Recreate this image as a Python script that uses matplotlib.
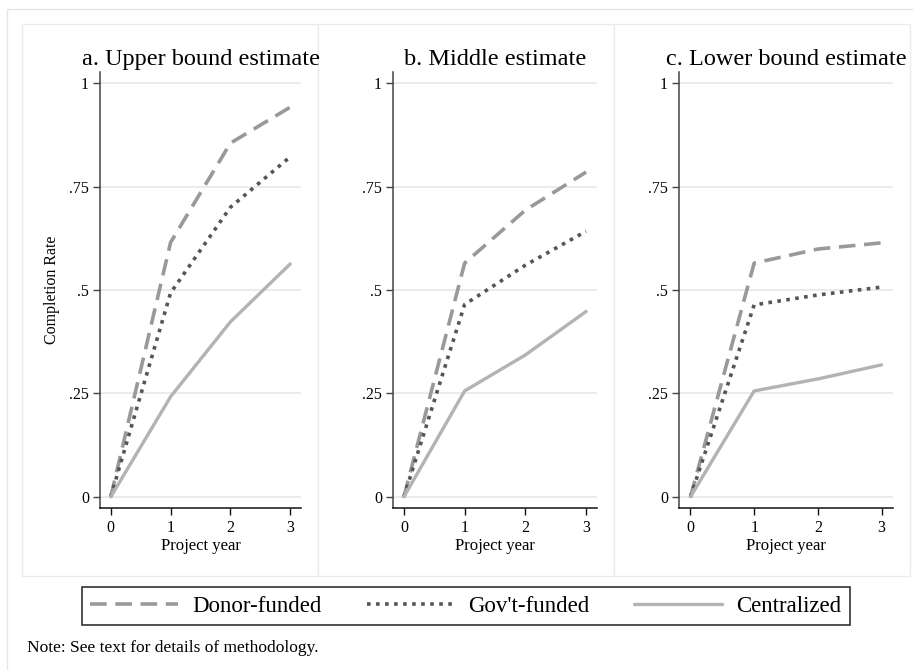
import matplotlib
matplotlib.use("Agg")
import matplotlib.pyplot as plt
from matplotlib.patches import Rectangle
from matplotlib.lines import Line2D

plt.rcParams["font.family"] = ["Liberation Serif", "DejaVu Serif"]

# completion rates by project year, one list per estimate and funding type
years = [0, 1, 2, 3]
panel_titles = ["a. Upper bound estimate", "b. Middle estimate", "c. Lower bound estimate"]
series_names = ["Donor-funded", "Gov't-funded", "Centralized"]

donor_upper = [0, 0.615, 0.855, 0.942]
gov_upper = [0, 0.493, 0.700, 0.822]
central_upper = [0, 0.242, 0.423, 0.563]

donor_middle = [0, 0.565, 0.693, 0.785]
gov_middle = [0, 0.465, 0.560, 0.642]
central_middle = [0, 0.256, 0.343, 0.448]

donor_lower = [0, 0.565, 0.599, 0.614]
gov_lower = [0, 0.464, 0.488, 0.507]
central_lower = [0, 0.256, 0.285, 0.319]

y_ticks = [0, 0.25, 0.5, 0.75, 1]
y_tick_labels = ["0", ".25", ".5", ".75", "1"]

W, H = 913, 670
fig = plt.figure(figsize=(W / 100, H / 100), dpi=100)


def fig_rect(left, top, right, bottom):
    # pixel box (from top-left) -> figure fraction [x, y, w, h]
    return [left / W, 1 - bottom / H, (right - left) / W, (bottom - top) / H]


# outer frame and per-panel boxes
frame = Rectangle((7 / W, 1 - 700 / H), 940 / W, 691 / H, transform=fig.transFigure,
                  facecolor="white", edgecolor="#e6e6e6", lw=1.0, zorder=-3)
fig.patches.append(frame)
for left in (22, 318, 614):
    box = Rectangle((left / W, 1 - 576 / H), 296 / W, 552 / H, transform=fig.transFigure,
                    facecolor="white", edgecolor="#ebebeb", lw=1.0, zorder=-2)
    fig.patches.append(box)

styles = [
    dict(color="#999999", lw=2.6, linestyle=(0, (4.6, 2.4)), dash_capstyle="butt"),
    dict(color="#555555", lw=2.6, linestyle=(0, (1.0, 1.5)), dash_capstyle="butt"),
    dict(color="#b3b3b3", lw=2.4, linestyle="-", solid_capstyle="round"),
]

panels = [
    (fig_rect(100, 72, 301, 508), [donor_upper, gov_upper, central_upper]),
    (fig_rect(393, 72, 597, 508), [donor_middle, gov_middle, central_middle]),
    (fig_rect(679, 72, 893, 508), [donor_lower, gov_lower, central_lower]),
]

for i, (rect, values) in enumerate(panels):
    ax = fig.add_axes(rect)
    ax.set_facecolor("none")
    for vals, st in zip(values, styles):
        ax.plot(years, vals, **st, zorder=3)

    ax.set_xlim(-0.18, 3.18)
    ax.set_ylim(-0.027, 1.027)
    ax.set_xticks(years)
    ax.set_yticks(y_ticks)
    ax.set_yticklabels(y_tick_labels)
    ax.grid(axis="y", color="#e8e8e8", lw=1.2)
    ax.set_axisbelow(True)

    for side in ("top", "right"):
        ax.spines[side].set_visible(False)
    ax.spines["left"].set_color("#444444")
    ax.spines["bottom"].set_color("#111111")
    ax.spines["left"].set_linewidth(1.1)
    ax.spines["bottom"].set_linewidth(1.1)
    ax.tick_params(axis="y", length=5, width=1, color="#444444", pad=3, labelsize=11.5)
    ax.tick_params(axis="x", length=5, width=1, color="#111111", pad=4, labelsize=11.5)

    ax.set_title(panel_titles[i], fontsize=17.5, pad=5)
    ax.set_xlabel("Project year", fontsize=12, labelpad=1)

fig.text(52 / W, 1 - 290 / H, "Completion Rate", rotation=90, fontsize=11.5,
         ha="center", va="center")

handles = [Line2D([], [], **st) for st in styles]
leg = fig.legend(handles, series_names, loc="center", ncol=3,
                 bbox_to_anchor=(466 / W, 1 - 606 / H), fontsize=16.5,
                 frameon=True, fancybox=False, edgecolor="black",
                 handlelength=3.8, handletextpad=0.65, columnspacing=1.95,
                 borderpad=0.35, borderaxespad=0)
leg.get_frame().set_linewidth(1.2)

fig.text(27 / W, 1 - 648 / H, "Note: See text for details of methodology.",
         fontsize=12.5, ha="left", va="center")

fig.savefig("out.png", dpi=100)
